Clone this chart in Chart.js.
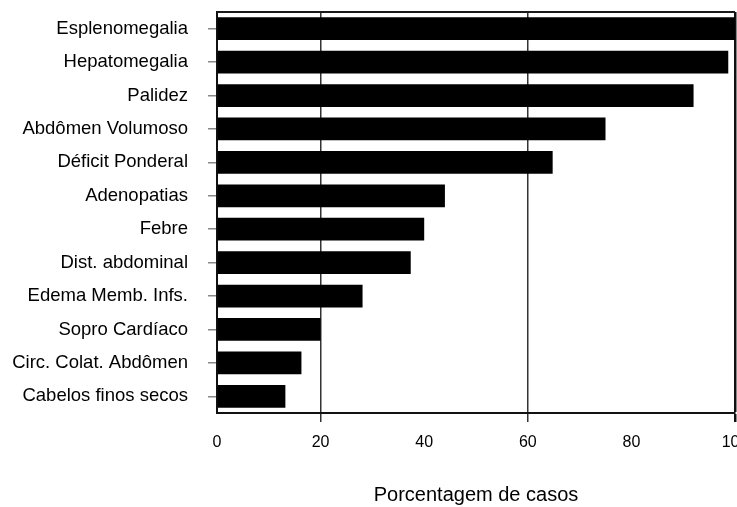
<!DOCTYPE html>
<html>
<head>
<meta charset="utf-8">
<script src="https://cdn.jsdelivr.net/npm/chart.js@4.4.0/dist/chart.umd.min.js"></script>
<style>
  html, body { margin: 0; padding: 0; background: #fff; overflow: hidden; }
  #wrap { width: 737px; height: 507px; overflow: hidden; position: relative; }
  canvas { display: block; }
</style>
</head>
<body>
<div id="wrap"><canvas id="c" width="750" height="507"></canvas></div>
<script>
const categories = [
  "Esplenomegalia", "Hepatomegalia", "Palidez", "Abdômen Volumoso",
  "Déficit Ponderal", "Adenopatias", "Febre", "Dist. abdominal",
  "Edema Memb. Infs.", "Sopro Cardíaco", "Circ. Colat. Abdômen", "Cabelos finos secos"
];
const percentages = [100, 98.7, 92, 75, 64.8, 44, 40, 37.4, 28.1, 20, 16.3, 13.2];
const xTickValues = [0, 20, 40, 60, 80, 100];
const gridLineValues = [20, 60];
const axisTitle = "Porcentagem de casos";

Chart.defaults.font.family = "'Liberation Sans', Arial, sans-serif";
Chart.defaults.color = "#000";

const frameTop = {
  id: "frameTop",
  afterDraw(chart) {
    const a = chart.chartArea, ctx = chart.ctx;
    ctx.save();
    ctx.strokeStyle = "#1a1a1a";
    ctx.lineWidth = 2;
    ctx.beginPath();
    ctx.moveTo(a.left, a.top);
    ctx.lineTo(a.right, a.top);
    ctx.stroke();
    ctx.restore();
  }
};

new Chart(document.getElementById("c"), {
  type: "bar",
  data: {
    labels: categories,
    datasets: [{
      data: percentages,
      backgroundColor: "#000",
      borderWidth: 0,
      categoryPercentage: 1,
      barPercentage: 0.68
    }]
  },
  options: {
    indexAxis: "y",
    responsive: false,
    animation: false,
    layout: { padding: { top: 12, right: 15, bottom: 0, left: 0 } },
    plugins: { legend: { display: false }, tooltip: { enabled: false } },
    scales: {
      x: {
        min: 0, max: 100,
        afterBuildTicks: (s) => { s.ticks = xTickValues.map(v => ({ value: v })); },
        afterFit: (s) => { s.height = 94; s.paddingLeft = 0; s.paddingRight = 0; },
        border: { display: true, color: "#111", width: 2 },
        grid: {
          drawOnChartArea: true,
          drawTicks: true,
          tickLength: 9,
          color: (ctx) => {
            const v = ctx.tick && ctx.tick.value;
            if (v === 100) return "#111";
            return gridLineValues.includes(v) ? "#333" : "rgba(0,0,0,0)";
          },
          lineWidth: (ctx) => (ctx.tick && ctx.tick.value === 100) ? 2.5 : 1.5
        },
        ticks: { font: { size: 16 }, color: "#000", padding: 11, maxRotation: 0 },
        title: {
          display: true,
          text: axisTitle,
          font: { size: 20 },
          color: "#000",
          padding: { top: 0, bottom: 0 }
        }
      },
      y: {
        afterFit: (s) => { s.width = 217; s.paddingTop = 0; s.paddingBottom = 0; },
        border: { display: true, color: "#111", width: 2 },
        grid: {
          offset: false,
          drawOnChartArea: false,
          drawTicks: true,
          tickLength: 9,
          color: "#888",
          lineWidth: 1.5
        },
        ticks: { font: { size: 18.5 }, color: "#000", padding: 20, autoSkip: false }
      }
    }
  },
  plugins: [frameTop]
});
</script>
</body>
</html>
